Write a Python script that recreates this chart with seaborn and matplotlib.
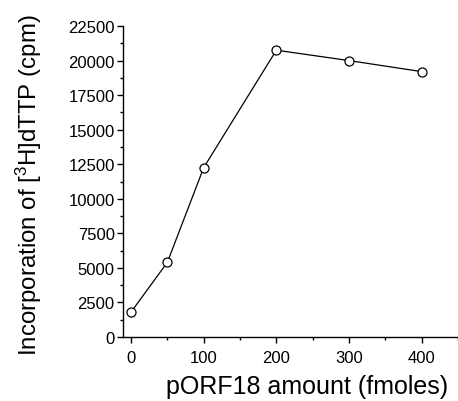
import matplotlib
matplotlib.use("Agg")
import matplotlib.pyplot as plt
import seaborn as sns
import pandas as pd
from matplotlib.ticker import MultipleLocator

sns.set_theme(style="ticks")
plt.rcParams['font.family'] = ['Liberation Sans', 'DejaVu Sans']
plt.rcParams['mathtext.fontset'] = 'custom'
plt.rcParams['mathtext.rm'] = 'Liberation Sans'
plt.rcParams['mathtext.it'] = 'Liberation Sans'

amount = [0, 50, 100, 200, 300, 400]
incorporation = [1800, 5400, 12250, 20750, 20000, 19200]

df = pd.DataFrame({'amount': amount, 'cpm': incorporation})

fig = plt.figure(figsize=(4.58, 4.02), dpi=100)
ax = fig.add_axes([0.2686, 0.1592, 0.7314, 0.7736])

sns.lineplot(data=df, x='amount', y='cpm', ax=ax, color='black', linewidth=0.9,
             marker='o', markersize=6.5, markerfacecolor='white',
             markeredgecolor='black', markeredgewidth=0.9)

ax.set_xlim(-11, 450)
ax.set_ylim(0, 22500)
ax.xaxis.set_major_locator(MultipleLocator(100))
ax.xaxis.set_minor_locator(MultipleLocator(50))
ax.yaxis.set_major_locator(MultipleLocator(2500))
ax.yaxis.set_minor_locator(MultipleLocator(1250))
ax.tick_params(which='major', direction='out', length=4, width=1, labelsize=12,
               colors='black', pad=2)
ax.tick_params(axis='x', which='major', pad=5)
ax.tick_params(which='minor', direction='out', length=2.5, width=1, colors='black')

for s in ['top', 'right']:
    ax.spines[s].set_visible(False)
for s in ['left', 'bottom']:
    ax.spines[s].set_color('black')
    ax.spines[s].set_linewidth(1)

ax.set_xlabel('pORF18 amount (fmoles)', fontsize=18, color='black')
ax.set_ylabel(r'Incorporation of [$^{3}$H]dTTP (cpm)', fontsize=17.3, color='black')
ax.xaxis.set_label_coords(0.55, -0.12)
ax.yaxis.set_label_coords(-0.235, 0.49)

fig.savefig('out.png', dpi=100)
plt.close(fig)
